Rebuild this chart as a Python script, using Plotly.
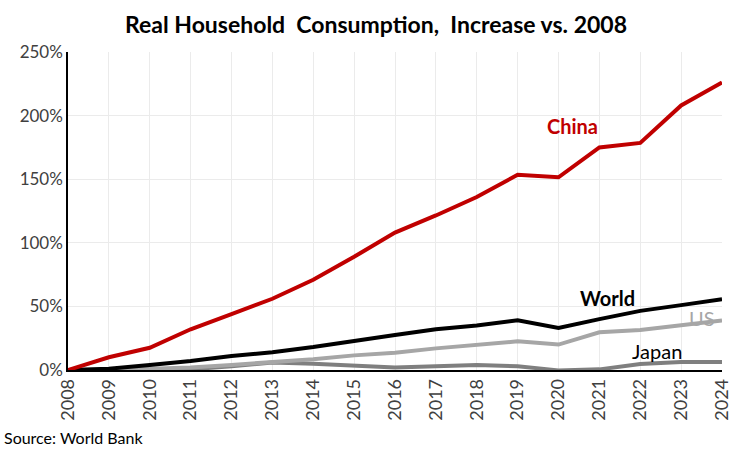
import plotly.graph_objects as go

years = list(range(2008, 2025))
china = [0, 10, 17.5, 32, 44, 56, 71, 89, 108, 121.5, 136, 153.5, 151.5, 175, 178.5, 208, 226]
world = [0, 1, 4, 7, 11, 14, 18, 23, 27.5, 32, 35, 39, 33, 40, 46.5, 51, 55.6]
us = [0, 0, 1, 2, 4, 6, 8.4, 11.5, 13.6, 17, 20, 22.5, 20, 29.6, 31.4, 35, 39]
japan = [0, -0.5, 0.5, 0.5, 3, 5.8, 5, 3.5, 2, 3, 4, 3, -0.3, 0.5, 4.7, 6.3, 6.3]
y_ticks = [0, 50, 100, 150, 200, 250]

font = "Lato"

fig = go.Figure()
series = [
    ("Japan", japan, "#7f7f7f"),
    ("US", us, "#a6a6a6"),
    ("World", world, "#000000"),
    ("China", china, "#c00000"),
]
for name, vals, col in series:
    fig.add_trace(go.Scatter(x=years, y=vals, mode="lines", name=name,
                             line=dict(color=col, width=4)))

# series labels
fig.add_annotation(x=2020.35, y=192, text="<b>China</b>", showarrow=False,
                   font=dict(color="#c00000", size=20, family=font))
fig.add_annotation(x=2021.2, y=56.6, text="<b>World</b>", showarrow=False,
                   font=dict(color="#000000", size=20, family=font))
fig.add_annotation(x=2023.5, y=41, text="US", showarrow=False,
                   font=dict(color="#a6a6a6", size=20, family=font))
fig.add_annotation(x=2022.4, y=15, text="Japan", showarrow=False,
                   font=dict(color="#000000", size=20, family=font))
fig.add_annotation(x=0, y=0, xref="paper", yref="paper", xanchor="left", yanchor="middle",
                   xshift=-66, yshift=-67,
                   text="Source: World Bank", showarrow=False,
                   font=dict(color="#000000", size=16, family=font))

fig.update_layout(
    width=752, height=452,
    margin=dict(l=68, r=30, t=52, b=82, autoexpand=False),
    plot_bgcolor="white", paper_bgcolor="white",
    showlegend=False,
    title=dict(text="<b>Real Household  Consumption,  Increase vs. 2008</b>",
               x=0.5, xanchor="center", y=1 - 25 / 452, yanchor="middle",
               font=dict(size=23, color="#000000", family=font)),
    font=dict(family=font),
)
fig.update_xaxes(range=[2008, 2024], tickmode="array", tickvals=years,
                 ticktext=[str(y) for y in years], tickangle=-90,
                 tickfont=dict(size=18, color="#404040"),
                 showgrid=True, gridcolor="#ebebeb", zeroline=False,
                 showline=True, linecolor="#000000", linewidth=1.5, ticks="")
fig.update_yaxes(range=[0, 250], tickmode="array", tickvals=y_ticks,
                 ticktext=[f"{v}%" for v in y_ticks],
                 tickfont=dict(size=17, color="#404040"),
                 showgrid=True, gridcolor="#ebebeb", zeroline=False,
                 showline=True, linecolor="#000000", linewidth=1.5, ticks="")

# drop the default page margin so the figure sits in the window corner
fig.write_html("out.html", config={"displayModeBar": False},
               post_script="document.body.style.margin='0px';")
